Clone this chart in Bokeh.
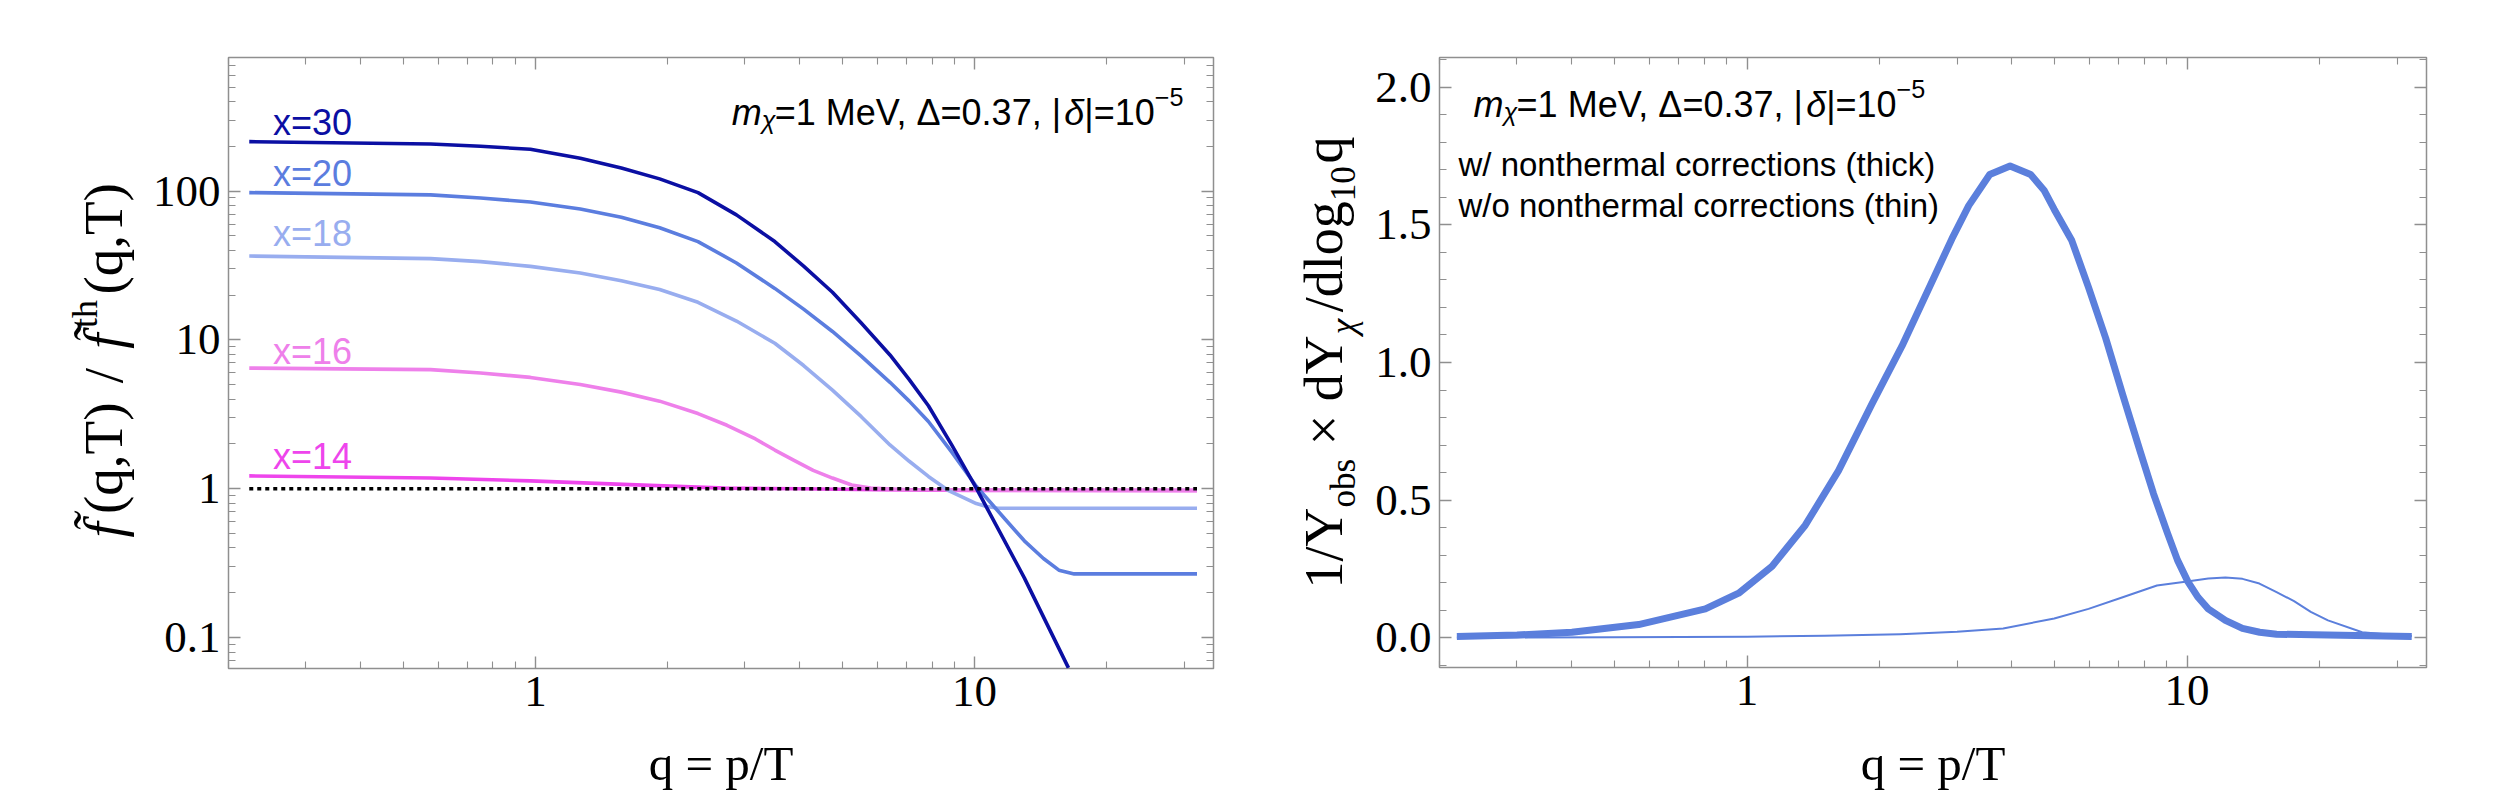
import math
from bokeh.plotting import figure
from bokeh.models import (Range1d, FixedTicker, LogAxis, LinearAxis, Label,
                          CustomJSTickFormatter, SingleIntervalTicker)
from bokeh.layouts import row, column
from bokeh.embed import file_html
from bokeh.resources import INLINE
from bokeh.core.properties import value

# ---------------- data: left panel (ratio f/f_th vs q) ----------------
Q_X30 = [0.223, 0.577, 0.75, 0.974, 1.265, 1.569, 1.918, 2.345, 2.869, 3.508, 4.08, 4.746,
         5.52, 6.417, 7.1, 7.85, 8.89, 10.09, 12.98, 16.36]
F_X30 = [215, 207, 200, 191, 166, 143, 120.8, 97.7, 69.2, 45.8, 31.3, 20.9,
         13.0, 7.93, 5.41, 3.61, 1.95, 1.01, 0.252, 0.0626]

Q_X20 = [0.223, 0.577, 0.75, 0.974, 1.265, 1.569, 1.918, 2.345, 2.869, 3.508, 4.08, 4.746,
         5.52, 6.417, 7.1, 7.85, 8.89, 10.09, 11.74, 12.98, 14.35, 15.56, 16.86, 32.1]
F_X20 = [97.7, 94.3, 89.8, 84.5, 75.8, 66.7, 56.7, 45.8, 32.9, 22.2, 16.1, 11.4,
         7.78, 5.19, 3.88, 2.83, 1.75, 1.04, 0.624, 0.447, 0.34, 0.284, 0.268, 0.268]

Q_X18 = [0.223, 0.577, 0.75, 0.974, 1.265, 1.569, 1.918, 2.345, 2.869, 3.508, 4.08, 4.746,
         5.52, 6.417, 7.1, 7.85, 8.68, 10.09, 10.6, 11.3, 32.1]
F_X18 = [36.6, 35.2, 33.6, 31.2, 28.2, 25.0, 21.8, 17.9, 13.4, 9.5, 6.73, 4.6,
         3.05, 1.97, 1.53, 1.21, 0.98, 0.795, 0.762, 0.74, 0.74]

Q_X16 = [0.223, 0.577, 0.75, 0.974, 1.265, 1.569, 1.918, 2.345, 2.73, 3.17, 3.508, 3.88,
         4.29, 4.746, 5.25, 5.8, 7.1, 32.1]
F_X16 = [6.47, 6.32, 6.0, 5.6, 5.02, 4.46, 3.88, 3.2, 2.67, 2.16, 1.82, 1.55,
         1.33, 1.18, 1.06, 1.01, 0.985, 0.97]

Q_X14 = [0.223, 0.577, 0.974, 1.64, 2.7, 4.0, 6.0, 10.0, 32.1]
F_X14 = [1.22, 1.18, 1.13, 1.066, 1.01, 1.0, 0.985, 0.975, 0.975]

Q_DOT = [0.223, 32.1]
F_DOT = [1.0, 1.0]

CURVE_NAMES = ["x=30", "x=20", "x=18", "x=16", "x=14"]

# ---------------- data: right panel (normalized spectrum) ----------------
Q_THICK = [0.219, 0.3, 0.4, 0.567, 0.804, 0.957, 1.14, 1.356, 1.614, 1.92, 2.25, 2.67, 2.92,
           3.19, 3.56, 3.96, 4.41, 4.73, 4.99, 5.47, 5.97, 6.53, 7.14, 7.82, 8.39, 9.02,
           9.51, 10.04, 10.59, 11.17, 12.22, 13.36, 14.62, 15.97, 32.4]
Y_THICK = [0.005, 0.01, 0.02, 0.048, 0.105, 0.162, 0.26, 0.409, 0.607, 0.848, 1.06, 1.315, 1.449,
           1.57, 1.683, 1.714, 1.683, 1.626, 1.556, 1.443, 1.273, 1.089, 0.883, 0.678, 0.523, 0.381,
           0.282, 0.204, 0.147, 0.105, 0.063, 0.034, 0.02, 0.013, 0.005]

Q_THIN = [0.219, 0.5, 1.0, 1.5, 2.23, 3.0, 3.82, 4.99, 5.97, 7.14, 8.54, 10.0, 11.17, 12.22,
          13.36, 14.6, 15.97, 17.5, 19.1, 20.9, 25.0, 29.9, 32.4]
Y_THIN = [0.001, 0.002, 0.004, 0.007, 0.013, 0.022, 0.034, 0.07, 0.105, 0.147, 0.19, 0.204, 0.215,
          0.219, 0.214, 0.197, 0.166, 0.133, 0.094, 0.063, 0.02, 0.009, 0.006]

# ---------------- ticks ----------------
X_MAJOR = [1, 10]
X_MINOR = [0.2, 0.3, 0.4, 0.5, 0.6, 0.7, 0.8, 0.9, 2, 3, 4, 5, 6, 7, 8, 9, 20, 30]
YL_MAJOR = [0.1, 1, 10, 100]
YL_MINOR = [0.07, 0.08, 0.09, 0.2, 0.3, 0.4, 0.5, 0.6, 0.7, 0.8, 0.9,
            2, 3, 4, 5, 6, 7, 8, 9, 20, 30, 40, 50, 60, 70, 80, 90,
            200, 300, 400, 500, 600, 700]

# ---------------- styles ----------------
FRAME = "#8f8f8f"
SERIF = "Liberation Serif"
SANS = "Liberation Sans"
C30, C20, C18, C16, C14 = "#0b0fa3", "#5b7ddf", "#98adef", "#ee80ea", "#ee45ec"
CR = "#5b7fdc"

TIMES_W = {'(': .333, ')': .333, 'q': .5, ',': .25, 'T': .611, '/': .278, 'f': .278,
           't': .278, 'h': .5, '1': .5, 'Y': .722, 'o': .5, 'b': .5, 's': .389, '×': .564,
           'd': .5, 'l': .278, 'g': .5, '0': .5, 'χ': .55, '=': .564, 'p': .5, '\u0303': 0}
ARIAL_W = {'m': .833, 'χ': .52, '=': .584, '1': .556, ' ': .278, 'M': .833, 'e': .556,
           'V': .667, ',': .278, 'Δ': .668, '0': .556, '.': .278, '3': .556, '7': .556,
           '|': .26, 'δ': .556, '−': .584, '5': .556}


def rich(p, pieces, x0, y0, size, font, widths, vertical=False, color="black",
         measure=False, middle=False):
    pos = 0.0
    for text, italic, scale, shift, gap in pieces:
        pos += gap * size
        fs = size * scale
        off = (shift - 0.335 * (1 - scale)) * size if middle else shift * size
        if vertical:
            x, y, ang = x0 - off, y0 + pos, math.pi / 2
        else:
            x, y, ang = x0 + pos, y0 + off, 0
        if not measure:
            p.add_layout(Label(x=x, y=y, x_units="screen", y_units="screen", text=text,
                               angle=ang, text_font=font, text_font_size=f"{fs:.1f}px",
                               text_font_style="italic" if italic else "normal",
                               text_color=color, text_align="left",
                               text_baseline="middle" if middle else "alphabetic"))
        pos += sum(widths.get(c, 0.55) for c in text) * fs
    return pos


def style_axis(ax, labels=True, size="45px"):
    ax.axis_line_color = None
    ax.major_tick_line_color = FRAME
    ax.minor_tick_line_color = FRAME
    ax.major_tick_line_width = 1.4
    ax.minor_tick_line_width = 1.1
    ax.major_tick_in = 12
    ax.major_tick_out = 0
    ax.minor_tick_in = 7
    ax.minor_tick_out = 0
    ax.major_label_text_font = SERIF
    ax.major_label_text_font_size = size
    ax.major_label_text_color = "black"
    ax.major_label_standoff = 8
    if not labels:
        ax.formatter = CustomJSTickFormatter(code="return ''")
        ax.major_label_text_font_size = "1px"
        ax.major_label_standoff = 0


def base(p):
    p.xgrid.visible = False
    p.ygrid.visible = False
    p.outline_line_color = FRAME
    p.outline_line_width = 1.5
    p.background_fill_color = "white"
    p.border_fill_color = "white"


def strip(width, height, left=0, right=0, top=0, bottom=0):
    s = figure(width=width, height=height, x_range=Range1d(0, 1), y_range=Range1d(0, 1),
               x_axis_location=None, y_axis_location=None, output_backend="svg",
               toolbar_location=None, min_border_left=left, min_border_right=right,
               min_border_top=top, min_border_bottom=bottom)
    s.xgrid.visible = False
    s.ygrid.visible = False
    s.outline_line_color = None
    s.background_fill_color = "white"
    s.border_fill_color = "white"
    return s


ANNOT = [("m", True, 1, 0, 0), ("χ", True, 0.7, -0.22, 0), ("=1 MeV, Δ=0.37, |", False, 1, 0, 0),
         ("δ", True, 1, 0, 0), ("|=10", False, 1, 0, 0), ("−5", False, 0.7, 0.42, 0)]

PANEL_H = 732
XSTRIP_H = 794 - PANEL_H

# ================= left y-label strip =================
s1 = strip(140, 794, top=57, bottom=126)
YL_LEFT = [("f\u0303", True, 1, 0, 0), ("(q,T)", False, 1, 0, 0.15), ("/", False, 1, 0, 0.35),
           ("f\u0303", True, 1, 0, 0.35), ("th", False, 0.65, 0.45, 0.1),
           ("(q,T)", False, 1, 0, 0.1)]
rich(s1, YL_LEFT, 103, 130, 55, SERIF, TIMES_W, vertical=True, middle=True)

# ================= left panel =================
p1 = figure(width=1110, height=PANEL_H, x_axis_type="log", y_axis_type="log",
            x_range=Range1d(0.2, 35), y_range=Range1d(0.062, 790),
            output_backend="svg", toolbar_location=None,
            min_border_left=88, min_border_right=37, min_border_top=57,
            min_border_bottom=PANEL_H - 668)
base(p1)
p1.xaxis.ticker = FixedTicker(ticks=X_MAJOR, minor_ticks=X_MINOR)
p1.yaxis.ticker = FixedTicker(ticks=YL_MAJOR, minor_ticks=YL_MINOR)
p1.xaxis.formatter = CustomJSTickFormatter(code="return tick >= 1 ? tick.toFixed(0) : tick.toString()")
p1.yaxis.formatter = CustomJSTickFormatter(code="return tick >= 1 ? tick.toFixed(0) : tick.toString()")
for ax in p1.xaxis + p1.yaxis:
    style_axis(ax)
ra = LogAxis(ticker=FixedTicker(ticks=YL_MAJOR, minor_ticks=YL_MINOR))
style_axis(ra, labels=False)
p1.add_layout(ra, "right")
ta = LogAxis(ticker=FixedTicker(ticks=X_MAJOR, minor_ticks=X_MINOR))
style_axis(ta, labels=False)
p1.add_layout(ta, "above")

for q, f, c in [(Q_X14, F_X14, C14), (Q_X16, F_X16, C16), (Q_X18, F_X18, C18),
                (Q_X20, F_X20, C20), (Q_X30, F_X30, C30)]:
    p1.line(q, f, line_color=c, line_width=3.6, line_join="round")
p1.line(Q_DOT, F_DOT, line_color="black", line_width=3.5, line_dash="4 4")

lab_y = [288, 132, 52, 8.3, 1.66]
p1.text(x=[0.2524] * 5, y=lab_y, text=CURVE_NAMES,
        text_color=[C30, C20, C18, C16, C14], text_font=value(SANS),
        text_font_size="36px", text_align="left", text_baseline="alphabetic")

w = rich(p1, ANNOT, 0, 0, 36, SANS, ARIAL_W, measure=True)
rich(p1, ANNOT, 955 - w, 556, 36, SANS, ARIAL_W)

x1 = strip(1110, XSTRIP_H, left=88, right=37)
x1.add_layout(Label(x=492.5, y=31, x_units="screen", y_units="screen", text="q = p/T",
                    text_font=SERIF, text_font_size="49px", text_color="black",
                    text_align="center", text_baseline="middle"))

# ================= right y-label strip =================
s2 = strip(117, 794, top=57, bottom=127)
YL_RIGHT = [("1/Y", False, 1, 0, 0), ("obs", False, 0.65, -0.25, 0),
            ("×", False, 1, 0, 0.25), ("dY", False, 1, 0, 0.25),
            ("χ", True, 0.65, -0.25, 0.02), ("/dlog", False, 1, 0, 0.05),
            ("10", False, 0.65, -0.25, 0), ("q", False, 1, 0, 0.05)]
rich(s2, YL_RIGHT, 73, 79, 54, SERIF, TIMES_W, vertical=True, middle=True)

# ================= right panel =================
p2 = figure(width=1133, height=PANEL_H, x_axis_type="log",
            x_range=Range1d(0.2, 35), y_range=Range1d(-0.108, 2.108),
            output_backend="svg", toolbar_location=None,
            min_border_left=72, min_border_right=74, min_border_top=57,
            min_border_bottom=PANEL_H - 667)
base(p2)
p2.xaxis.ticker = FixedTicker(ticks=X_MAJOR, minor_ticks=X_MINOR)
p2.xaxis.formatter = CustomJSTickFormatter(code="return tick.toFixed(0)")
p2.yaxis.ticker = SingleIntervalTicker(interval=0.5, num_minor_ticks=5)
p2.yaxis.formatter = CustomJSTickFormatter(code="return tick.toFixed(1)")
for ax in p2.xaxis + p2.yaxis:
    style_axis(ax)
ra2 = LinearAxis(ticker=SingleIntervalTicker(interval=0.5, num_minor_ticks=5))
style_axis(ra2, labels=False)
p2.add_layout(ra2, "right")
ta2 = LogAxis(ticker=FixedTicker(ticks=X_MAJOR, minor_ticks=X_MINOR))
style_axis(ta2, labels=False)
p2.add_layout(ta2, "above")

p2.line(Q_THICK, Y_THICK, line_color=CR, line_width=7, line_join="round")
p2.line(Q_THIN, Y_THIN, line_color=CR, line_width=2, line_join="round")

rich(p2, ANNOT, 34, 563, 36, SANS, ARIAL_W)
for txt, yy in [("w/ nonthermal corrections (thick)", 503), ("w/o nonthermal corrections (thin)", 462)]:
    p2.add_layout(Label(x=19, y=yy, x_units="screen", y_units="screen", text=txt,
                        text_font=SANS, text_font_size="33px", text_color="black",
                        text_align="left", text_baseline="alphabetic"))

x2 = strip(1133, XSTRIP_H, left=72, right=74)
x2.add_layout(Label(x=493.5, y=31, x_units="screen", y_units="screen", text="q = p/T",
                    text_font=SERIF, text_font_size="49px", text_color="black",
                    text_align="center", text_baseline="middle"))

layout = row(s1, column(p1, x1), s2, column(p2, x2))
open("out.html", "w").write(file_html(layout, INLINE))
